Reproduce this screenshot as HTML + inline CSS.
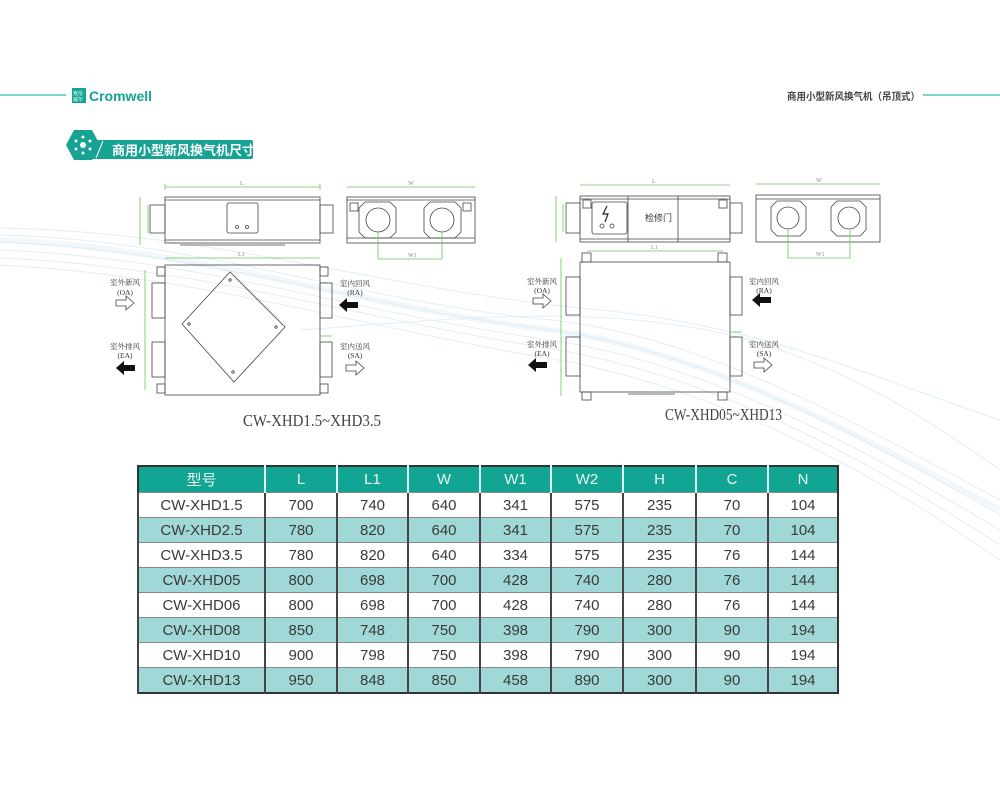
<!DOCTYPE html>
<html><head><meta charset="utf-8"><style>
html,body{margin:0;padding:0;background:#fff;}
body{width:1000px;height:800px;position:relative;overflow:hidden;font-family:"Liberation Sans","Noto Sans CJK SC",sans-serif;}
table{position:absolute;left:137px;top:465px;border-collapse:collapse;border:2px solid #333;}
td{height:24px;padding:0;text-align:center;font-size:15px;color:#3a3a3a;border-left:2px solid #444;border-top:1px solid #888;}
tr.h td{background:#12a594;color:#e8f6f4;height:25px;border-left:2px solid #dff;border-top:none;}
tr.a td{background:#9fd8d6;}
</style></head><body>
<svg width="1000" height="800" style="position:absolute;left:0;top:0">
<!-- swoosh -->
<g fill="none" stroke="#cfe4ef" stroke-width="1" opacity="0.6">
<path d="M0 235 C200 240 350 300 550 320 C700 335 850 420 1000 500"/>
<path d="M0 242 C200 250 350 305 550 330 C700 350 850 430 1000 515"/>
<path d="M0 250 C200 258 350 312 550 340 C700 362 850 440 1000 530"/>
<path d="M0 258 C200 266 360 320 560 350 C720 380 860 455 1000 545"/>
<path d="M0 228 C220 232 380 290 600 310 C760 325 880 380 1000 420"/>
<path d="M300 330 C450 320 600 300 750 340 C850 370 930 420 1000 470"/>
<path d="M0 265 C200 275 370 330 570 362 C730 395 870 470 1000 560"/>
</g>
<g fill="none" stroke="#dcebf4" stroke-width="6" opacity="0.4">
<path d="M0 240 C200 248 350 305 550 330 C700 350 850 430 1000 510"/>
</g>
<!-- header -->
<line x1="0" y1="95" x2="66" y2="95" stroke="#7fd6cc" stroke-width="2"/>
<rect x="72" y="88" width="14" height="15" fill="#12a594"/>
<text x="73" y="95" font-size="5" fill="#fff">克伦</text>
<text x="73" y="101" font-size="5" fill="#fff">威尔</text>
<text x="89" y="101" font-size="14" font-weight="bold" fill="#12a594">Cromwell</text>
<text x="787" y="100" font-size="10" font-weight="bold" fill="#444" textLength="133" lengthAdjust="spacingAndGlyphs">商用小型新风换气机（吊顶式）</text>
<line x1="923" y1="95" x2="1000" y2="95" stroke="#7fd6cc" stroke-width="2"/>
<!-- title badge -->
<rect x="92" y="140" width="161" height="19" rx="2" fill="#17a394"/>
<polygon points="74,130 92,130 100,145 92,160 74,160 66,145" fill="#17a394"/>
<line x1="96" y1="158" x2="103" y2="141" stroke="#fff" stroke-width="1"/>
<g fill="#fff"><circle cx="83" cy="145" r="3"/><circle cx="83" cy="137" r="1.5"/><circle cx="83" cy="153" r="1.5"/><circle cx="76" cy="141" r="1.5"/><circle cx="90" cy="141" r="1.5"/><circle cx="76" cy="149" r="1.5"/><circle cx="90" cy="149" r="1.5"/></g>
<text x="112" y="155" font-size="13" font-weight="bold" fill="#fff">商用小型新风换气机尺寸</text>

<g stroke="#444" fill="none" stroke-width="0.8">
<rect x="165" y="197" width="155" height="46"/>
<line x1="165" y1="200" x2="320" y2="200"/><line x1="165" y1="240" x2="320" y2="240"/>
<rect x="150" y="205" width="15" height="28"/><rect x="320" y="205" width="13" height="28"/>
<rect x="227" y="203" width="31" height="30" rx="2"/>
<circle cx="237" cy="227" r="1.5"/><circle cx="247" cy="227" r="1.5"/>
<line x1="180" y1="245" x2="285" y2="245"/>
<rect x="347" y="197" width="128" height="46"/>
<line x1="347" y1="200" x2="475" y2="200"/><line x1="347" y1="238" x2="475" y2="238"/>
<polygon points="365,202 390,202 396,208 396,232 390,238 365,238 359,232 359,208"/>
<polygon points="430,202 455,202 461,208 461,232 455,238 430,238 424,232 424,208"/>
<circle cx="378" cy="220" r="12"/><circle cx="442" cy="220" r="12"/>
<rect x="350" y="203" width="8" height="8"/><rect x="463" y="203" width="8" height="8"/>
<rect x="165" y="265" width="155" height="130"/>
<rect x="152" y="283" width="13" height="35"/><rect x="152" y="342" width="13" height="35"/>
<rect x="320" y="283" width="12" height="35"/><rect x="320" y="342" width="12" height="35"/>
<rect x="157" y="267" width="8" height="9"/><rect x="157" y="384" width="8" height="9"/>
<rect x="320" y="267" width="8" height="9"/><rect x="320" y="384" width="8" height="9"/>
<polygon points="230,272 182,324 234,382 285,327"/>
<circle cx="230" cy="280" r="1.2"/><circle cx="189" cy="324" r="1.2"/><circle cx="276" cy="327" r="1.2"/><circle cx="233" cy="372" r="1.2"/>

<rect x="580" y="196" width="150" height="46"/>
<line x1="580" y1="199" x2="730" y2="199"/><line x1="580" y1="239" x2="730" y2="239"/>
<rect x="566" y="203" width="14" height="30"/><rect x="730" y="203" width="12" height="30"/>
<line x1="628" y1="196" x2="628" y2="242"/><line x1="678" y1="196" x2="678" y2="242"/>
<rect x="592" y="202" width="35" height="32" rx="2"/>
<circle cx="602" cy="226" r="2"/><circle cx="612" cy="226" r="2"/>
<rect x="583" y="200" width="8" height="8"/><rect x="719" y="200" width="8" height="8"/>
<rect x="756" y="195" width="124" height="47"/>
<line x1="756" y1="199" x2="880" y2="199"/>
<polygon points="777,201 800,201 806,207 806,230 800,236 777,236 771,230 771,207"/>
<polygon points="837,201 860,201 866,207 866,230 860,236 837,236 831,230 831,207"/>
<circle cx="788" cy="218" r="11"/><circle cx="849" cy="218" r="11"/>
<rect x="580" y="262" width="150" height="130"/>
<rect x="566" y="277" width="14" height="38"/><rect x="566" y="337" width="14" height="39"/>
<rect x="730" y="277" width="12" height="38"/><rect x="730" y="337" width="12" height="39"/>
<rect x="582" y="253" width="9" height="9"/><rect x="718" y="253" width="9" height="9"/>
<rect x="582" y="392" width="9" height="8"/><rect x="718" y="392" width="9" height="8"/>
<line x1="628" y1="394" x2="675" y2="394"/>
<path d="M116 300 h10 v-4 l8 7 l-8 7 v-4 h-10 z"/>
<path d="M346 365 h10 v-4 l8 7 l-8 7 v-4 h-10 z"/>
<path d="M533 298 h10 v-4 l8 7 l-8 7 v-4 h-10 z"/>
<path d="M754 362 h10 v-4 l8 7 l-8 7 v-4 h-10 z"/>
</g>
<g fill="#111">
<path d="M116 368 l8 -7 v4 h11 v6 h-11 v4 z"/>
<path d="M339 305 l8 -7 v4 h11 v6 h-11 v4 z"/>
<path d="M528 365 l8 -7 v4 h11 v6 h-11 v4 z"/>
<path d="M752 300 l8 -7 v4 h11 v6 h-11 v4 z"/>
</g>
<path d="M607 206 l-4 8 h5 l-3 8" stroke="#222" fill="none" stroke-width="1.2"/>
<g stroke="#6cc45a" stroke-width="0.8" fill="none">
<path d="M165 187 H320 M165 184 v6 M320 184 v6"/>
<path d="M140 197 V245 M148 205 V233"/>
<path d="M347 187 H475"/>
<path d="M378 232 V259 H442 V232"/>
<path d="M165 258 H320"/>
<path d="M145 270 V390"/>
<path d="M320 336 H332"/>
<path d="M580 185 H730"/>
<path d="M556 196 V242 M563 204 V232"/>
<path d="M756 184 H880"/>
<path d="M788 230 V258 H850 V230"/>
<path d="M587 251 H723"/>
<path d="M561 258 V396"/>
<path d="M730 332 H742"/>
</g>
<g font-size="6" fill="#888" font-family="Liberation Serif,serif">
<text x="240" y="185">L</text><text x="408" y="185">W</text><text x="408" y="257">W1</text><text x="238" y="256">L1</text>
<text x="652" y="183">L</text><text x="816" y="182">W</text><text x="816" y="256">W1</text><text x="651" y="249">L1</text>
</g>
<g font-size="7.5" fill="#333" font-family="'Liberation Serif','Noto Serif CJK SC',serif" text-anchor="middle">
<text x="125" y="285">室外新风</text><text x="125" y="295">(OA)</text>
<text x="125" y="349">室外排风</text><text x="125" y="358">(EA)</text>
<text x="355" y="286">室内回风</text><text x="355" y="295">(RA)</text>
<text x="355" y="349">室内送风</text><text x="355" y="358">(SA)</text>
<text x="542" y="284">室外新风</text><text x="542" y="293">(OA)</text>
<text x="542" y="347">室外排风</text><text x="542" y="356">(EA)</text>
<text x="764" y="284">室内回风</text><text x="764" y="293">(RA)</text>
<text x="764" y="347">室内送风</text><text x="764" y="356">(SA)</text>
</g>
<text x="645" y="221" font-size="9" fill="#333">检修门</text>
<text x="243" y="426" font-size="17" fill="#444" font-family="'Liberation Serif',serif" textLength="138" lengthAdjust="spacingAndGlyphs">CW-XHD1.5~XHD3.5</text>
<text x="665" y="420" font-size="17" fill="#444" font-family="'Liberation Serif',serif" textLength="117" lengthAdjust="spacingAndGlyphs">CW-XHD05~XHD13</text>
</svg>
<table>
<colgroup><col style="width:127px"><col style="width:72px"><col style="width:71px"><col style="width:72px"><col style="width:71px"><col style="width:72px"><col style="width:73px"><col style="width:72px"><col style="width:70px"></colgroup>
<tr class="h"><td style="border-left:none">型号</td><td>L</td><td>L1</td><td>W</td><td>W1</td><td>W2</td><td>H</td><td>C</td><td>N</td></tr>
<tr><td>CW-XHD1.5</td><td>700</td><td>740</td><td>640</td><td>341</td><td>575</td><td>235</td><td>70</td><td>104</td></tr>
<tr class="a"><td>CW-XHD2.5</td><td>780</td><td>820</td><td>640</td><td>341</td><td>575</td><td>235</td><td>70</td><td>104</td></tr>
<tr><td>CW-XHD3.5</td><td>780</td><td>820</td><td>640</td><td>334</td><td>575</td><td>235</td><td>76</td><td>144</td></tr>
<tr class="a"><td>CW-XHD05</td><td>800</td><td>698</td><td>700</td><td>428</td><td>740</td><td>280</td><td>76</td><td>144</td></tr>
<tr><td>CW-XHD06</td><td>800</td><td>698</td><td>700</td><td>428</td><td>740</td><td>280</td><td>76</td><td>144</td></tr>
<tr class="a"><td>CW-XHD08</td><td>850</td><td>748</td><td>750</td><td>398</td><td>790</td><td>300</td><td>90</td><td>194</td></tr>
<tr><td>CW-XHD10</td><td>900</td><td>798</td><td>750</td><td>398</td><td>790</td><td>300</td><td>90</td><td>194</td></tr>
<tr class="a"><td>CW-XHD13</td><td>950</td><td>848</td><td>850</td><td>458</td><td>890</td><td>300</td><td>90</td><td>194</td></tr>
</table>
</body></html>
